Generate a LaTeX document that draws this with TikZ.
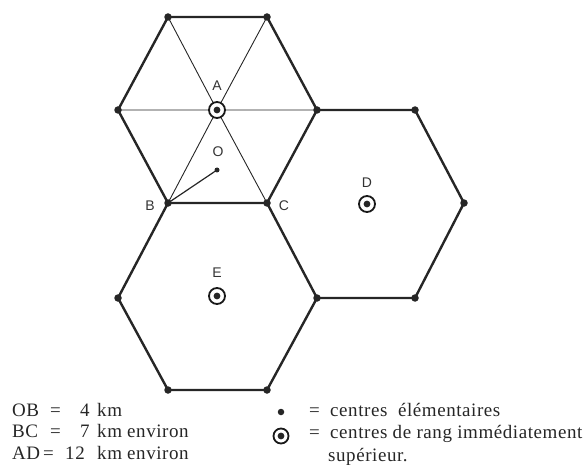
\documentclass[tikz,border=0pt]{standalone}
\usepackage{fontspec}
\setmainfont{Liberation Serif}
\newfontfamily\legfont[LetterSpace=3]{Liberation Serif}
\newfontfamily\lblfont{Liberation Sans}
\begin{document}
\begin{tikzpicture}[x=1pt,y=-1pt,
  hexedge/.style={line width=2.4pt,draw=black!85,line join=round},
  thinline/.style={line width=0.9pt,draw=black!85},
  vdot/.style={circle,fill=black!85,inner sep=0pt,minimum size=7.5pt},
  odot/.style={circle,fill=black!85,inner sep=0pt,minimum size=5pt},
  ring/.style={circle,draw=black!90,line width=1.8pt,fill=white,inner sep=0pt,minimum size=16pt,
    path picture={\fill[black!85] (path picture bounding box.center) circle (3.4pt);}},
  lbl/.style={font=\lblfont\fontsize{14}{14}\selectfont,text=black!80},
  legend/.style={font=\legfont\fontsize{19}{19}\selectfont,anchor=base west,inner sep=0pt,text=black!85}]
\useasboundingbox (0,0) rectangle (583,465);
% vertices
\coordinate (P1) at (168,17);
\coordinate (P2) at (267,17);
\coordinate (P3) at (317,110);
\coordinate (C) at (267,203);
\coordinate (B) at (168,203);
\coordinate (P6) at (118,110);
\coordinate (D2) at (415,110);
\coordinate (D3) at (464,203);
\coordinate (D4) at (415,298);
\coordinate (D5) at (317,298);
\coordinate (E4) at (267,390);
\coordinate (E5) at (168,390);
\coordinate (E6) at (118,298);
\coordinate (A) at (217,110);
\coordinate (O) at (217,170);
\coordinate (D) at (367,204);
\coordinate (E) at (217,296);
% thin lines
\draw[thinline] (A) -- (P1) (A) -- (P2) (A) -- (P3) (A) -- (C) (A) -- (B) (A) -- (P6);
\draw[thinline,line width=1.2pt] (B) -- (O);
% hexagons
\draw[hexedge] (P1) -- (P2) -- (P3) -- (C) -- (B) -- (P6) -- cycle;
\draw[hexedge] (P3) -- (D2) -- (D3) -- (D4) -- (D5) -- (C);
\draw[hexedge] (D5) -- (E4) -- (E5) -- (E6) -- (B);
% dots
\foreach \p in {P1,P2,P3,C,B,P6,D2,D3,D4,D5,E4,E5,E6}
  \node[vdot] at (\p) {};
\node[odot] (o) at (O) {};
\node[ring] (a) at (A) {};
\node[ring] (d) at (D) {};
\node[ring] (e) at (E) {};
% labels
\node[lbl] (la) at (217,86) {A};
\node[lbl] (lo) at (218,152) {O};
\node[lbl] (lb) at (150,206) {B};
\node[lbl] (lc) at (284,206) {C};
\node[lbl] (ld) at (367,183) {D};
\node[lbl] (le) at (217,273) {E};
% legend left
\node[legend] (ob) at (12,416) {OB};
\node[legend] (eq1) at (50,416) {=};
\node[legend] (n1) at (80,416) {4};
\node[legend] (km1) at (97,416) {km};
\node[legend] (bc) at (12,437) {BC};
\node[legend] (eq2) at (50,437) {=};
\node[legend] (n2) at (80,437) {7};
\node[legend] (km2) at (97,437) {km};
\node[legend] (en2) at (127,437) {environ};
\node[legend] (ad) at (12,459) {AD};
\node[legend] (eq3) at (43,459) {=};
\node[legend] (n3) at (65,459) {12};
\node[legend] (km3) at (97,459) {km};
\node[legend] (en3) at (127,459) {environ};
% legend right
\node[vdot,minimum size=6.5pt] (k1) at (281,412) {};
\node[ring,minimum size=15pt] (k2) at (281,436) {};
\node[legend] (eq4) at (309,416) {=};
\node[legend] (t1) at (330,416) {centres\ \ élémentaires};
\node[legend] (eq5) at (309,438) {=};
\node[legend] (t2) at (330,438) {centres de rang immédiatement};
\node[legend] (t3) at (328,461) {supérieur.};
\end{tikzpicture}
\end{document}
